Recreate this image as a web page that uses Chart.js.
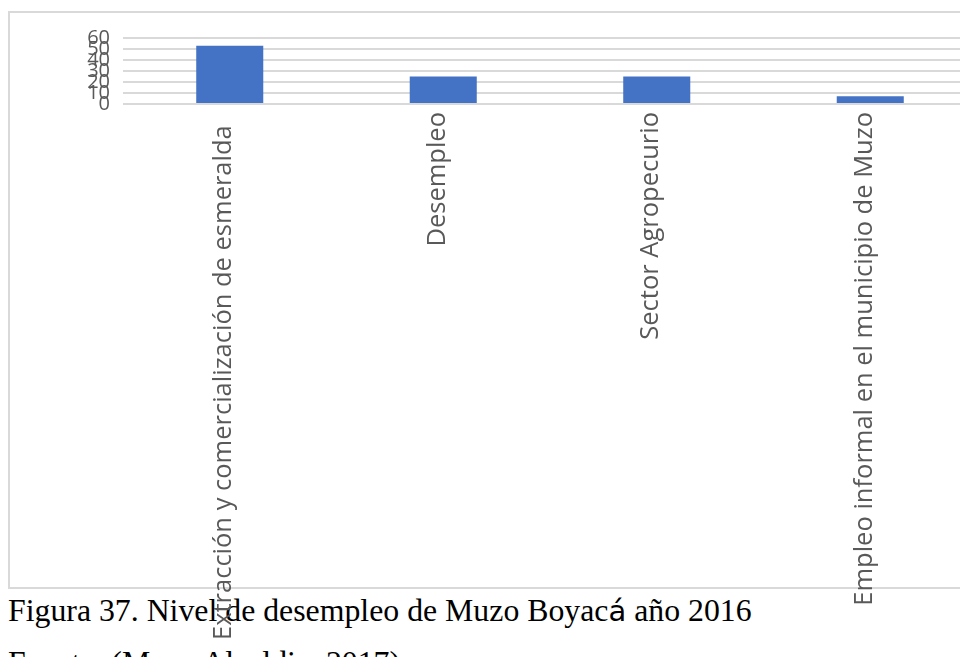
<!DOCTYPE html>
<html lang="es">
<head>
<meta charset="utf-8">
<title>Nivel de desempleo de Muzo Boyacá año 2016</title>
<script src="https://cdn.jsdelivr.net/npm/chart.js@4/dist/chart.umd.min.js"></script>
<style>
  html, body { margin: 0; padding: 0; background: #fff; width: 960px; height: 657px; overflow: hidden; }
  .frame { position: absolute; left: 8px; top: 11px; width: 1100px; height: 574px; border: 2px solid #d9d9d9; }
  .caption { position: absolute; left: 8px; top: 585px; font-family: "Liberation Serif", "Times New Roman", serif;
    font-size: 31.8px; line-height: 52px; color: #000; white-space: nowrap; }
  .caption .alt { font-family: "DejaVu Sans", sans-serif; font-size: 29px; line-height: 0; }
  .chart-wrap { position: absolute; left: 0; top: 0; width: 1000px; height: 657px; }
</style>
</head>
<body>
<div class="frame"></div>
<div class="caption">
  <div>Figura 37. Nivel de desempleo de Muzo Boyac<span class="alt">á</span> año 2016</div>
  <div>Fuente: (Muzo Alcaldia, 2017)</div>
</div>
<div class="chart-wrap"><canvas id="desempleoChart"></canvas></div>

<script>
// first category keeps the trailing blanks it has in the source sheet
const categories = [
  'Extracción y comercialización de esmeralda  ',
  'Desempleo',
  'Sector Agropecurio',
  'Empleo informal en el municipio de Muzo'
];
const values = [53, 25, 25, 7];
const yTicks = [0, 10, 20, 30, 40, 50, 60];

const PLOT_LEFT = 123;   // where the gridlines start
const PLOT_BOTTOM = 104; // y of the zero line
const CANVAS_H = 657;

new Chart(document.getElementById('desempleoChart'), {
  type: 'bar',
  data: {
    labels: categories,
    datasets: [{
      label: 'Serie 1',
      data: values,
      backgroundColor: '#4472C4',
      borderWidth: 0,
      barPercentage: 0.314,
      categoryPercentage: 1
    }]
  },
  options: {
    responsive: true,
    maintainAspectRatio: false,
    animation: false,
    layout: { padding: { top: 38, right: 23, bottom: 0, left: 0 } },
    plugins: { legend: { display: false }, tooltip: { enabled: false } },
    scales: {
      x: {
        grid: { display: false, drawTicks: false },
        border: { display: false },
        ticks: {
          autoSkip: false,
          minRotation: 90,
          maxRotation: 90,
          padding: 8,
          labelOffset: -6,
          color: '#595959',
          font: { family: '"Open Sans", sans-serif', size: 25.5 }
        },
        afterFit: scale => { scale.height = CANVAS_H - PLOT_BOTTOM; }
      },
      y: {
        min: yTicks[0],
        max: yTicks[yTicks.length - 1],
        afterBuildTicks: scale => { scale.ticks = yTicks.map(v => ({ value: v })); },
        grid: { color: '#d9d9d9', lineWidth: 2, drawTicks: false },
        border: { display: false },
        ticks: {
          autoSkip: false,
          padding: 13,
          color: '#595959',
          font: { family: '"Open Sans", sans-serif', size: 20 }
        },
        afterFit: scale => { scale.width = PLOT_LEFT; }
      }
    }
  }
});
</script>
</body>
</html>
